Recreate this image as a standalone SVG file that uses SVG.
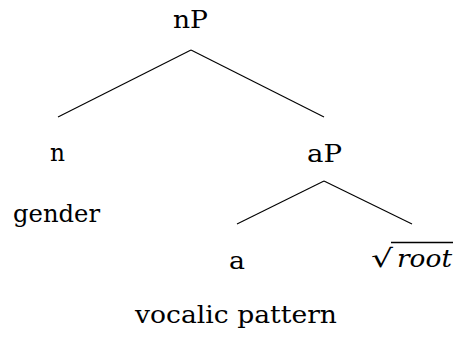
<svg xmlns="http://www.w3.org/2000/svg" width="455" height="340" viewBox="0 0 455 340">
<style>
text{font-family:'DejaVu Serif',serif;font-size:25px;fill:#000}
.c line{stroke:#000;stroke-width:1.1}
</style>
<rect width="455" height="340" fill="#fff"/>
<g class="c" id="connectors">
<line x1="191" y1="50" x2="58" y2="117"/>
<line x1="191" y1="50" x2="324" y2="117"/>
<line x1="324" y1="181" x2="237" y2="224"/>
<line x1="324" y1="181" x2="412" y2="224"/>
</g>
<g id="nP"><text x="173" y="27.5" textLength="35" lengthAdjust="spacingAndGlyphs">nP</text></g>
<g id="n"><text x="50" y="161" textLength="15" lengthAdjust="spacingAndGlyphs">n</text></g>
<g id="gender"><text x="13" y="222" textLength="87" lengthAdjust="spacingAndGlyphs">gender</text></g>
<g id="aP"><text x="307" y="162" textLength="35" lengthAdjust="spacingAndGlyphs">aP</text></g>
<g id="a"><text x="229" y="269" textLength="16" lengthAdjust="spacingAndGlyphs">a</text></g>
<g id="root"><text x="371" y="267" font-size="31" textLength="22" lengthAdjust="spacingAndGlyphs">√</text><line x1="391" y1="242.5" x2="453" y2="242.5" stroke="#000" stroke-width="1.3"/><text x="397" y="267" font-style="italic" textLength="55" lengthAdjust="spacingAndGlyphs">root</text></g>
<g id="vocalic"><text x="135" y="323" textLength="202" lengthAdjust="spacingAndGlyphs">vocalic pattern</text></g>
</svg>
